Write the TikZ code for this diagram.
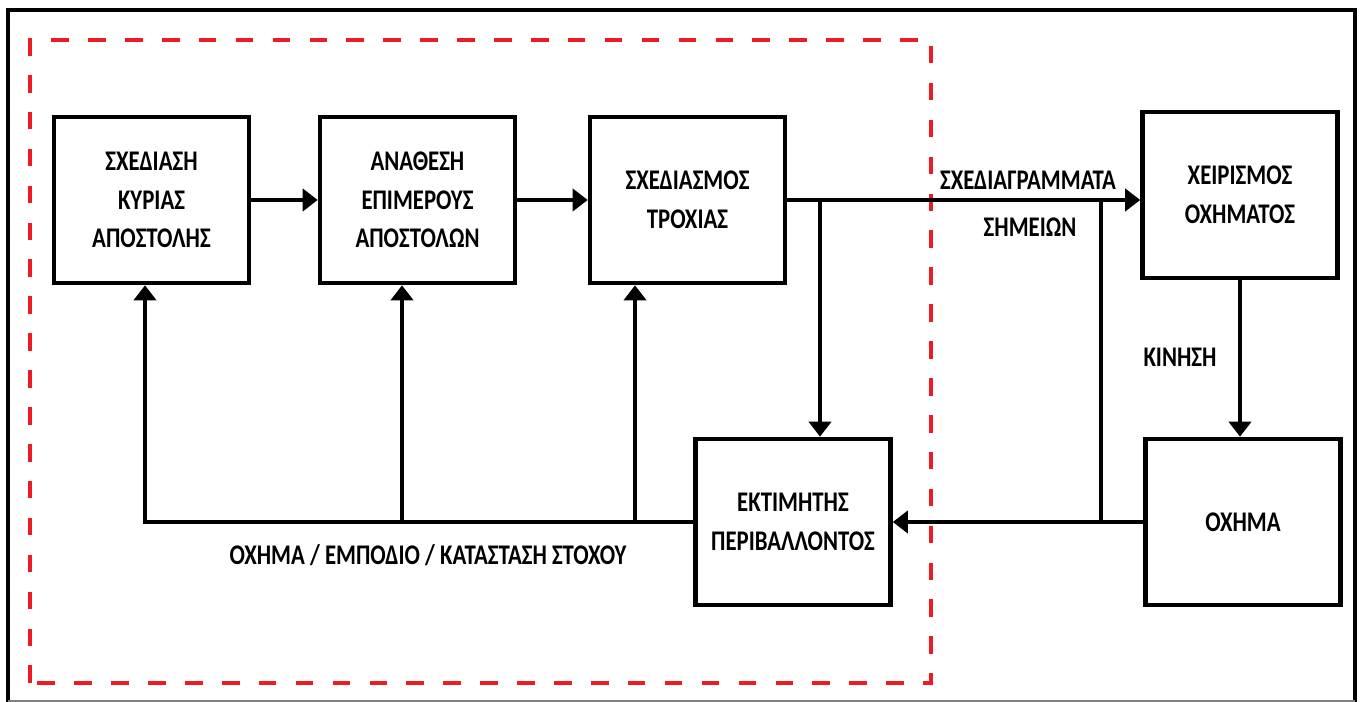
\documentclass[tikz,border=0pt]{standalone}
\usepackage{fontspec}
\setmainfont[FakeStretch=0.8]{Carlito}
\usetikzlibrary{arrows.meta}
\definecolor{dashred}{RGB}{237,28,36}
\begin{document}
\begin{tikzpicture}[scale=1, line width=1.2pt]
	    \tikzset{>={Triangle[length=4.3pt,width=6.3pt]}}
	    \tikzset{box/.style={draw, line width=1.3pt, minimum width=1.95cm, minimum height=1.66cm,
	        inner sep=0pt, align=center, font=\bfseries\fontsize{8.1}{11}\selectfont}}
	    \tikzset{lbl/.style={font=\bfseries\fontsize{8.1}{11}\selectfont}}
	    \useasboundingbox (0,0) rectangle (13.63,7.02);
	    % frame and red dashed region
	    \draw (0.08,0) -- (0.08,6.92) -- (13.55,6.92) -- (13.55,0);
	    \draw [gray, line width=0.4pt] (0.08,0.01) -- (13.55,0.01);
	    \draw [dashred, line width=1.1pt, dash pattern=on 5pt off 5.5pt] (0.30,0.19) rectangle (9.31,6.62);
	    % blocks
	    \node [box] (1) at (1.515,5.02) {ΣΧΕΔΙΑΣΗ\\ΚΥΡΙΑΣ\\ΑΠΟΣΤΟΛΗΣ};
	    \node [box] (2) at (4.175,5.02) {ΑΝΑΘΕΣΗ\\ΕΠΙΜΕΡΟΥΣ\\ΑΠΟΣΤΟΛΩΝ};
	    \node [box] (3) at (6.875,5.02) {ΣΧΕΔΙΑΣΜΟΣ\\ΤΡΟΧΙΑΣ};
	    \node [box] (4) at (7.93,1.80) {ΕΚΤΙΜΗΤΗΣ\\ΠΕΡΙΒΑΛΛΟΝΤΟΣ};
	    \node [box] (5) at (12.40,5.07) {ΧΕΙΡΙΣΜΟΣ\\ΟΧΗΜΑΤΟΣ};
	    \node [box] (6) at (12.43,1.80) {ΟΧΗΜΑ};
	    \coordinate (a) at (8.20,5.02);
	    \coordinate (b) at (11.01,5.02);
	    \coordinate (c) at (1.45,1.80);
	    \coordinate (d) at (4.02,1.80);
	    \coordinate (e) at (6.35,1.80);
	    % forward path
	    \draw [->] (1) -- (2);
	    \draw [->] (2) -- (3);
	    \draw [->] (3) -- (3 -| 5.west);
	    \draw [->] (a) -- (a |- 4.north);
	    \draw (b) -- (b |- 6.west);
	    \draw [->] (5.south) -- (5.south |- 6.north);
	    % feedback
	    \draw [->] (6) -- (6 -| 4.east);
	    \draw [->] (4) -- (c) -- (c |- 1.south);
	    \draw [->] (d) -- (d |- 2.south);
	    \draw [->] (e) -- (e |- 3.south);
	    % labels
	    \node [lbl] (s) at (10.28,5.22) {ΣΧΕΔΙΑΓΡΑΜΜΑΤΑ};
	    \node [lbl] (t) at (10.30,4.75) {ΣΗΜΕΙΩΝ};
	    \node [lbl] (k) at (11.80,3.45) {ΚΙΝΗΣΗ};
	    \node [lbl] (o) at (4.28,1.47) {ΟΧΗΜΑ / ΕΜΠΟΔΙΟ / ΚΑΤΑΣΤΑΣΗ ΣΤΟΧΟΥ};
\end{tikzpicture}
\end{document}
